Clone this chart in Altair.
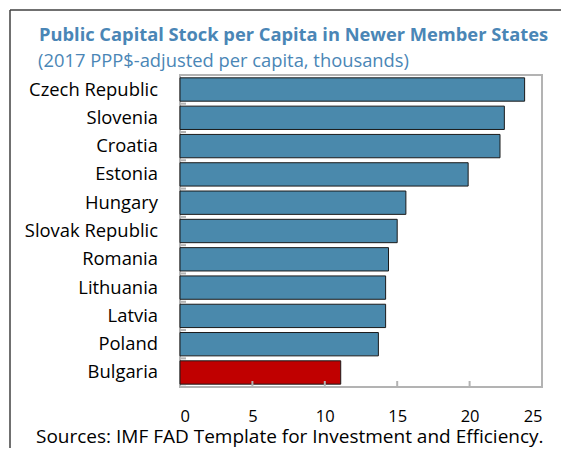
import altair as alt
import pandas as pd

countries = ["Czech Republic", "Slovenia", "Croatia", "Estonia", "Hungary",
             "Slovak Republic", "Romania", "Lithuania", "Latvia", "Poland", "Bulgaria"]
values = [23.8, 22.4, 22.1, 19.9, 15.6, 15.0, 14.4, 14.2, 14.2, 13.7, 11.1]
groups = ["other"] * 10 + ["Bulgaria"]
x_tick_values = [0, 5, 10, 15, 20, 25]
inner_ticks = [5, 10, 15, 20]

title_text = "Public Capital Stock per Capita in Newer Member States"
subtitle_text = "(2017 PPP$-adjusted per capita, thousands)"
source_text = "Sources: IMF FAD Template for Investment and Efficiency."

df = pd.DataFrame({"country": countries, "value": values, "group": groups})
ticks_df = pd.DataFrame({"t": inner_ticks})
one = pd.DataFrame({"a": [0]})

W, H = 362, 312
PL, PT = 172, 67
FONT = "Open Sans"
BLUE_T = "#4a86b6"

yscale = alt.Scale(paddingInner=0.175, paddingOuter=0.1)
ysort = countries

bars = alt.Chart(df).mark_bar(stroke="#1a1a1a", strokeWidth=1).encode(
    x=alt.X("value:Q", scale=alt.Scale(domain=[0, 25], nice=False),
            axis=alt.Axis(values=x_tick_values, title=None, domain=False, ticks=False,
                          grid=False, labelPadding=21.5, labelFontSize=16.5,
                          labelColor="black", labelFont=FONT)),
    y=alt.Y("country:N", sort=ysort, scale=yscale,
            axis=alt.Axis(title=None, domain=False, ticks=False, labelPadding=22.5,
                          labelFontSize=18.4, labelColor="black", labelFont=FONT)),
    color=alt.Color("group:N", scale=alt.Scale(domain=["other", "Bulgaria"],
                                               range=["#4a89ac", "#c00000"]), legend=None),
)

xt = alt.Chart(ticks_df).mark_rule(color="#b3b3b3", strokeWidth=2).encode(
    x=alt.X("t:Q"), y=alt.value(H - 6), y2=alt.value(H))

yt = alt.Chart(df).mark_rule(color="#b3b3b3", strokeWidth=2, yOffset=2.5).encode(
    y=alt.Y("country:N", sort=ysort, bandPosition=1), x=alt.value(0), x2=alt.value(6))

border_left = alt.Chart(one).mark_rule(color="#404040", strokeWidth=1.5).encode(
    x=alt.value(-170), y=alt.value(-65), y2=alt.value(400))
border_top = alt.Chart(one).mark_rule(color="#404040", strokeWidth=1.5).encode(
    y=alt.value(-65), x=alt.value(-170), x2=alt.value(400))

title = alt.Chart(one).mark_text(align="left", baseline="alphabetic", fontSize=18.3,
                                 font=FONT, fontWeight="bold", color=BLUE_T).encode(
    x=alt.value(-141), y=alt.value(-34.3), text=alt.value(title_text))

subtitle = alt.Chart(one).mark_text(align="left", baseline="alphabetic", fontSize=18.35,
                                    font=FONT, color=BLUE_T).encode(
    x=alt.value(-142), y=alt.value(-8.3), text=alt.value(subtitle_text))

source = alt.Chart(one).mark_text(align="left", baseline="alphabetic", fontSize=19,
                                  font=FONT, color="black").encode(
    x=alt.value(-144), y=alt.value(368), text=alt.value(source_text))

chart = alt.layer(bars, xt, yt, border_left, border_top, title, subtitle, source).properties(
    width=W, height=H,
    autosize=alt.AutoSizeParams(type="none"),
    padding={"left": PL, "top": PT, "right": 19, "bottom": 61},
).configure_view(stroke="#b3b3b3", strokeWidth=2)

chart.save("out.html", embed_options={"renderer": "svg", "actions": False})
